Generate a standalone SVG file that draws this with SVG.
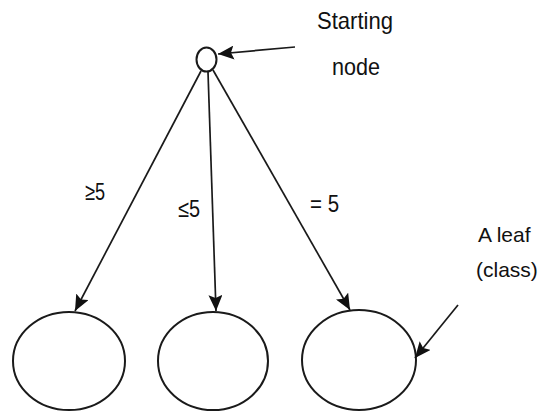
<svg xmlns="http://www.w3.org/2000/svg" width="540" height="412" viewBox="0 0 540 412">
<style>
.node{fill:#fff;stroke:#1a1a1a;stroke-width:2}
.edge{stroke:#1a1a1a;stroke-width:1.7;fill:none}
.lbl{font-family:"Liberation Sans",Arial,sans-serif;font-size:24px;fill:#111}
.side{font-family:"Liberation Sans",Arial,sans-serif;font-size:21px;fill:#111}
</style>
<defs>
<marker id="ah" markerUnits="userSpaceOnUse" markerWidth="18" markerHeight="14" refX="16" refY="7" orient="auto">
<path d="M0,0 L16,7 L0,14 L3,7 Z" fill="#111"/>
</marker>
</defs>
<rect width="540" height="412" fill="#fff"/>
<g id="start">
<ellipse class="node" cx="206.5" cy="59.5" rx="10" ry="12"/>
</g>
<g id="leaf1"><ellipse class="node" cx="69" cy="361" rx="56" ry="49"/></g>
<g id="leaf2"><ellipse class="node" cx="213" cy="361" rx="55" ry="49"/></g>
<g id="leaf3"><ellipse class="node" cx="359" cy="360" rx="57" ry="50"/></g>
<g id="connectors">
<line class="edge" x1="201" y1="71" x2="75" y2="311" marker-end="url(#ah)"/>
<line class="edge" x1="208" y1="72" x2="216" y2="311" marker-end="url(#ah)"/>
<line class="edge" x1="213" y1="70" x2="350" y2="310" marker-end="url(#ah)"/>
<line class="edge" x1="295" y1="47" x2="218" y2="54" marker-end="url(#ah)"/>
<line class="edge" x1="458" y1="305" x2="415" y2="358" marker-end="url(#ah)"/>
</g>
<g id="labels">
<text class="lbl" x="317" y="29" textLength="76" lengthAdjust="spacingAndGlyphs">Starting</text>
<text class="lbl" x="332" y="75" textLength="48" lengthAdjust="spacingAndGlyphs">node</text>
<text class="side" x="478" y="242">A leaf</text>
<text class="side" x="476" y="277">(class)</text>
<text class="lbl" x="85" y="200" textLength="20" lengthAdjust="spacingAndGlyphs">≥5</text>
<text class="lbl" x="178" y="217" textLength="22" lengthAdjust="spacingAndGlyphs">≤5</text>
<text class="lbl" x="310" y="212" textLength="29" lengthAdjust="spacingAndGlyphs">= 5</text>
</g>
</svg>
